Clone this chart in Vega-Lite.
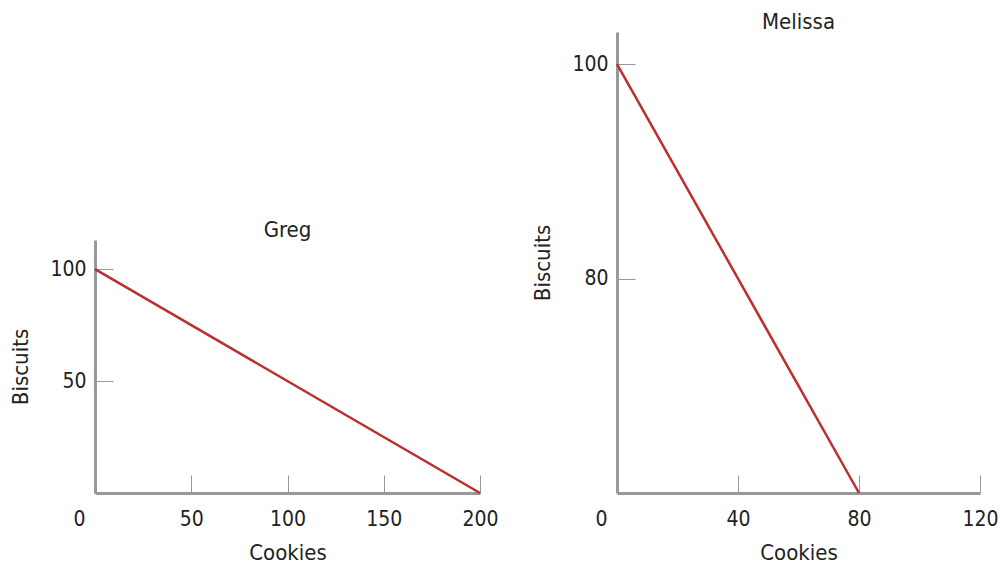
{
  "$schema": "https://vega.github.io/schema/vega-lite/v6.json",
  "background": "white",
  "padding": {"left": 9, "top": 11, "right": 0, "bottom": 5},
  "datasets": {
    "greg": [{"cookies": 0, "biscuits": 100}, {"cookies": 200, "biscuits": 0}],
    "melissa": [{"cookies": 0, "biscuits": 100}, {"cookies": 80, "biscuits": 60}]
  },
  "config": {
    "font": "DejaVu Sans Condensed",
    "view": {"stroke": null},
    "title": {"font": "DejaVu Sans Condensed", "fontSize": 22, "fontWeight": "normal", "color": "#222", "offset": -2},
    "axis": {
      "grid": false,
      "labelFlush": false,
      "domainColor": "#999",
      "domainWidth": 3,
      "tickColor": "#999",
      "tickWidth": 1,
      "tickSize": -18,
      "labelFont": "DejaVu Sans Condensed",
      "labelFontSize": 21,
      "labelColor": "#222",
      "titleFont": "DejaVu Sans Condensed",
      "titleFontSize": 22,
      "titleFontWeight": "normal",
      "titleColor": "#222"
    },
    "concat": {"spacing": 32}
  },
  "hconcat": [
    {
      "vconcat": [
        {
          "width": 385,
          "height": 187,
          "data": {"values": [{"a": 1}]},
          "mark": {"type": "text", "opacity": 0},
          "encoding": {"text": {"value": ""}}
        },
        {
          "title": "Greg",
          "width": 385,
          "height": 253,
          "data": {"name": "greg"},
          "mark": {"type": "line", "color": "#b8312f", "strokeWidth": 2.5},
          "encoding": {
            "x": {"field": "cookies", "type": "quantitative", "scale": {"domain": [0, 200], "nice": false, "zero": false},
              "axis": {"title": "Cookies", "values": [0, 50, 100, 150, 200], "labelPadding": 33, "titlePadding": 13,
                "labelOffset": {"expr": "datum.value == 0 ? -16 : 0"}}},
            "y": {"field": "biscuits", "type": "quantitative", "scale": {"domain": [0, 113], "nice": false, "zero": false},
              "axis": {"title": "Biscuits", "values": [50, 100], "labelPadding": 27, "titlePadding": 17}}
          }
        }
      ],
      "spacing": 0
    },
    {
      "title": "Melissa",
      "width": 363,
      "height": 461,
      "data": {"name": "melissa"},
      "mark": {"type": "line", "color": "#b8312f", "strokeWidth": 2.5},
      "encoding": {
        "x": {"field": "cookies", "type": "quantitative", "scale": {"domain": [0, 120], "nice": false, "zero": false},
          "axis": {"title": "Cookies", "values": [0, 40, 80, 120], "labelPadding": 33, "titlePadding": 13,
            "labelOffset": {"expr": "datum.value == 0 ? -16 : 0"}}},
        "y": {"field": "biscuits", "type": "quantitative", "scale": {"domain": [60, 103], "nice": false, "zero": false},
          "axis": {"title": "Biscuits", "values": [80, 100], "labelPadding": 27, "titlePadding": 17}}
      }
    }
  ]
}
